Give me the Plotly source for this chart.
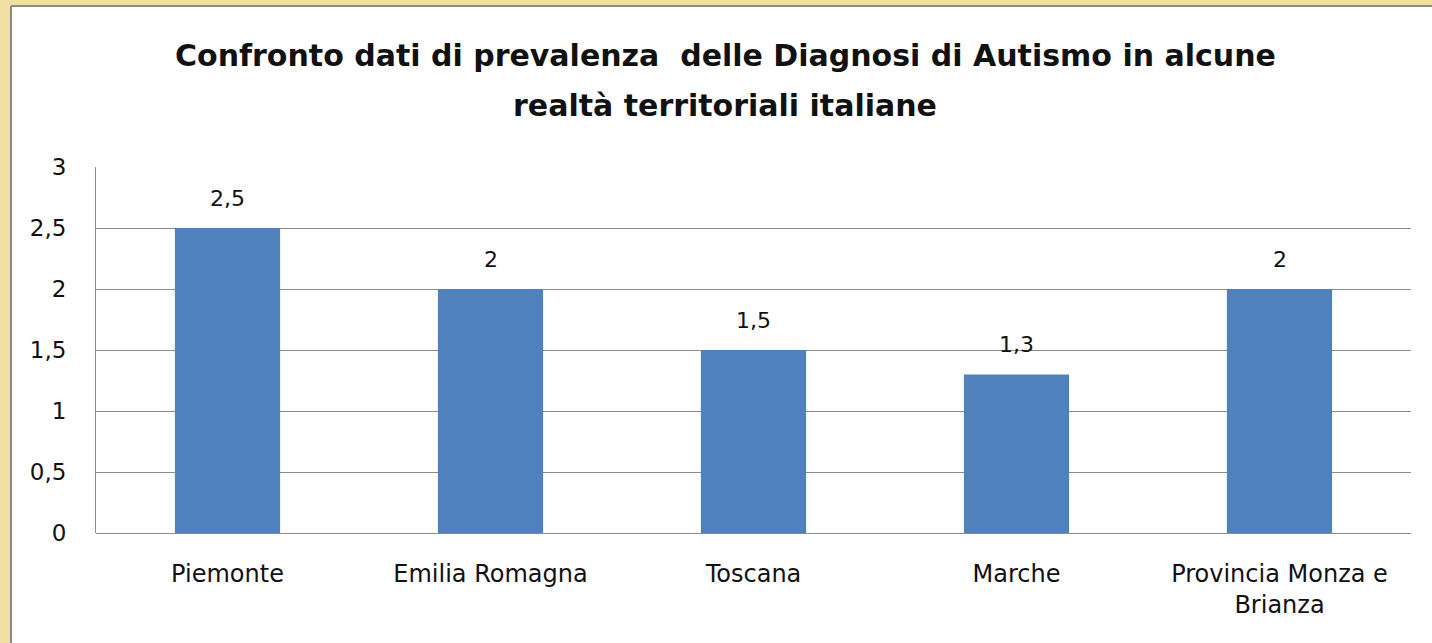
import plotly.graph_objects as go

# Prevalence of autism diagnoses by territory
categories = ["Piemonte", "Emilia Romagna", "Toscana", "Marche", "Provincia Monza e<br>Brianza"]
values = [2.5, 2.0, 1.5, 1.3, 2.0]
tick_vals = [0, 0.5, 1, 1.5, 2, 2.5, 3]
tick_text = ["0", "0,5", "1", "1,5", "2", "2,5", "3"]

title_lines = [
    "Confronto dati di prevalenza  delle Diagnosi di Autismo in alcune",
    "realtà territoriali italiane",
]

FONT = "DejaVu Sans, sans-serif"
W, H = 1432, 643
ML, MR, MT, MB = 96, 21, 167, 110
PW, PH = W - ML - MR, H - MT - MB


def px_x(x):
    return (x - ML) / PW


def px_y(y):
    return (H - MB - y) / PH


fig = go.Figure(
    go.Bar(
        x=categories,
        y=values,
        marker=dict(color="#4F81BD", line=dict(width=0)),
        width=0.4,
        hoverinfo="skip",
    )
)

# value labels above each bar
for c, v in zip(categories, values):
    fig.add_annotation(
        x=c, y=v, xref="x", yref="y",
        text=f"{v:g}".replace(".", ","),
        showarrow=False, yanchor="middle", yshift=30,
        font=dict(family=FONT, size=22, color="#111"),
    )

# white card over golden background, framed on its left and top edges
fig.add_shape(
    type="rect", xref="paper", yref="paper",
    x0=px_x(11), x1=px_x(W + 20),
    y0=px_y(H + 20), y1=px_y(6),
    fillcolor="white", line=dict(width=0),
    layer="below",
)
fig.add_shape(
    type="line", xref="paper", yref="paper",
    x0=px_x(11), x1=px_x(11), y0=px_y(H + 20), y1=px_y(6),
    line=dict(color="#8a8a8a", width=2), layer="below",
)
fig.add_shape(
    type="line", xref="paper", yref="paper",
    x0=px_x(11), x1=px_x(W + 20), y0=px_y(6), y1=px_y(6),
    line=dict(color="#8a8a8a", width=2), layer="below",
)

# two-line title
for i, line in enumerate(title_lines):
    fig.add_annotation(
        x=px_x(725), y=px_y(55 + 50 * i), xref="paper", yref="paper",
        text=line, showarrow=False, xanchor="center", yanchor="middle",
        font=dict(family=FONT, size=30, color="#111", weight="bold"),
    )

fig.update_layout(
    width=W, height=H,
    margin=dict(l=ML, r=MR, t=MT, b=MB),
    paper_bgcolor="#F2DFA3",
    plot_bgcolor="rgba(0,0,0,0)",
    showlegend=False,
    separators=",.",
    bargap=0.6,
)

fig.update_xaxes(
    showgrid=False, showline=False, ticks="",
    ticklabelstandoff=24,
    tickfont=dict(family=FONT, size=24, color="#111"),
    fixedrange=True,
)
fig.update_yaxes(
    range=[0, 3], tickvals=tick_vals, ticktext=tick_text,
    showgrid=True, gridcolor="#8c8c8c", gridwidth=1,
    showline=True, linecolor="#8c8c8c", linewidth=1,
    zeroline=True, zerolinecolor="#8c8c8c", zerolinewidth=1,
    ticks="", ticklabelstandoff=24,
    tickfont=dict(family=FONT, size=23, color="#111"),
    fixedrange=True,
)

fig.write_html("out.html", config={"displayModeBar": False})
